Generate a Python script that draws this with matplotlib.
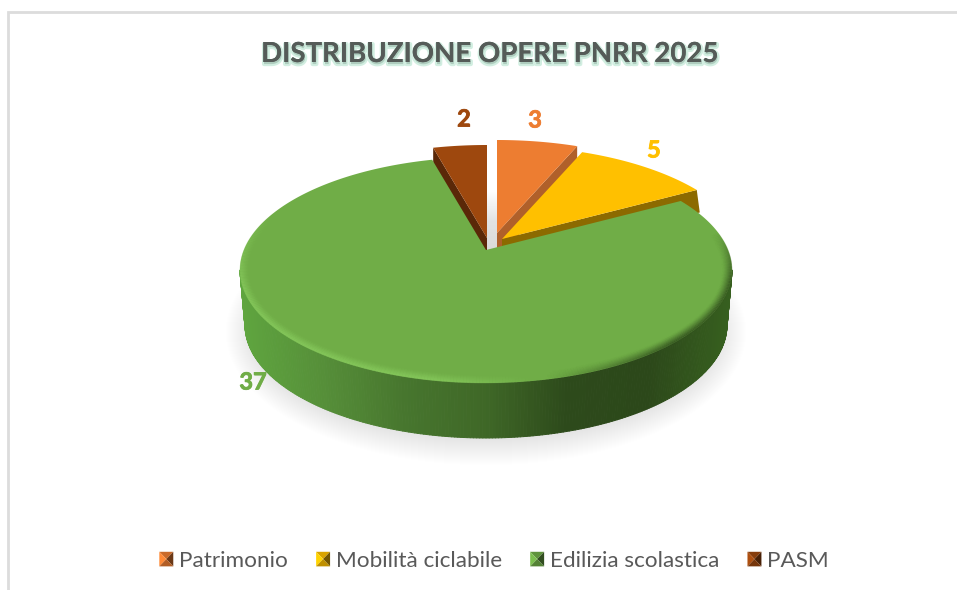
import numpy as np
import matplotlib
matplotlib.use('Agg')
import matplotlib.pyplot as plt
import matplotlib.patheffects as pe
from matplotlib.collections import PolyCollection, LineCollection
from matplotlib.colors import LinearSegmentedColormap, to_rgb
from matplotlib.legend_handler import HandlerBase
from matplotlib.patches import Ellipse, Patch, Polygon

plt.rcParams['font.family'] = ['Lato', 'DejaVu Sans']

##################################################
## data
##################################################
title = 'DISTRIBUZIONE OPERE PNRR 2025'
categories = ['Patrimonio', 'Mobilità ciclabile', 'Edilizia scolastica', 'PASM']
values = [3, 5, 37, 2]

##################################################
## style and layout (pixels, y going down)
##################################################
colors = ['#ED7D31', '#FFC000', '#70AD47', '#9E480E']
wall_colors = ['#B0602A', '#8C6A00', '#4F8A33', '#5A2808']
apex_x = [497, 502, 486, 487]        # where each exploded slice has its tip
apex_y = [233, 239, 250, 238]
label_x = [535, 654, 253, 464]
label_y = [120, 150, 382, 119]
rx, ry = 246, 113
persp = 20                           # tip sits above the centre of the ellipse
green_depth = 55
bottom_rx = 241


def rim(theta, ax0, ay0):
    # point where the ray at pie angle theta (clockwise from top) meets the rim
    a = persp / ry
    c = np.cos(theta)
    s = -a * c + np.sqrt(a**2 * c**2 - a**2 + 1)
    return ax0 + rx * s * np.sin(theta), ay0 - ry * s * c


def back_depth(y):
    # back slices look thinner because of the perspective
    return 14 + (y - 140) * 0.17


fig = plt.figure(figsize=(9.57, 5.9), dpi=100)
ax = fig.add_axes([0, 0, 1, 1])

# chart frame
ax.plot([8, 8, 957], [590, 12, 12], color='#DCDCDC', lw=2, solid_joinstyle='miter')

# slice angles from the values
edges = np.radians(np.concatenate([[0], np.cumsum(values)]) / np.sum(values) * 360)

# soft shadow under the disc
for k in range(26):
    ax.add_patch(Ellipse((486, 332), 2 * (rx + 14 - k), 2 * (ry + 20 - k),
                         color='#8C8C8C', alpha=0.009, lw=0))

# grey gap between the slices at the top
gap = LinearSegmentedColormap.from_list('gap', ['#FFFFFF', '#FFFFFF', '#E2E2E2', '#DADADA'])
ax.imshow(np.linspace(0, 1, 60).reshape(-1, 1), cmap=gap, aspect='auto',
          extent=[487, 497, 252, 160], zorder=1)

# small slices: wall first, then top face
for i in [0, 1, 3]:
    th = np.linspace(edges[i], edges[i + 1], 60)
    x, y = rim(th, apex_x[i], apex_y[i])
    if i == 3:
        # brown shows the wall on its left radial edge
        ex, ey = x[0], y[0]
    else:
        ex, ey = x[-1], y[-1]
    d0 = back_depth(apex_y[i])
    d1 = back_depth(ey)
    ax.add_patch(Polygon([(apex_x[i], apex_y[i]), (ex, ey), (ex + (3 if i == 1 else 0), ey + d1),
                          (apex_x[i], apex_y[i] + d0)],
                         fc=wall_colors[i], ec='none', zorder=2))
    ax.add_patch(Polygon(np.column_stack([np.r_[apex_x[i], x], np.r_[apex_y[i], y]]),
                         fc=colors[i], ec='none', zorder=3))

# green side wall with the shading from left to right
side = LinearSegmentedColormap.from_list(
    'side', ['#5FA53F', '#568F39', '#47762E', '#3F6827', '#2D4A1B', '#2C481A', '#37601F'])
cy = apex_y[2] + persp
t = np.radians(np.linspace(90, 270, 241))
tx = apex_x[2] + rx * np.sin(t)
ty = cy - ry * np.cos(t)
bx = apex_x[2] + bottom_rx * np.sin(t)
by = cy + green_depth - ry * np.cos(t)
quads = [[(tx[j], ty[j]), (tx[j + 1], ty[j + 1]), (bx[j + 1], by[j + 1]), (bx[j], by[j])]
         for j in range(len(t) - 1)]
quad_colors = [side((q[0][0] - 240) / 493) for q in quads]
ax.add_collection(PolyCollection(quads, facecolors=quad_colors, edgecolors=quad_colors,
                                 linewidths=0.7, zorder=4))

# green top face
th = np.linspace(edges[2], edges[3], 400)
x, y = rim(th, apex_x[2], apex_y[2])
ax.add_patch(Polygon(np.column_stack([np.r_[apex_x[2], x], np.r_[apex_y[2], y]]),
                     fc=colors[2], ec='none', zorder=5))

# soft bevel along the front of the rim: light on the left, dark on the right
t2 = np.radians(np.linspace(70, 300, 300))
light = np.array(to_rgb('#86C95C'))
dark = np.array(to_rgb('#2C481A'))
for inset in np.arange(0.5, 9, 1.0):
    px = apex_x[2] + (rx - inset * 1.1) * np.sin(t2)
    py = cy - (ry - inset) * np.cos(t2)
    segs = np.stack([np.column_stack([px[:-1], py[:-1]]), np.column_stack([px[1:], py[1:]])], axis=1)
    mid = np.degrees(t2[:-1])
    fade = (1 - inset / 9) ** 1.5
    rgba = np.zeros((len(mid), 4))
    lit = np.clip((mid - 168) / 25, 0, 1) * np.clip((300 - mid) / 40, 0, 1)
    shade = np.clip((165 - mid) / 35, 0, 1) * np.clip((mid - 70) / 25, 0, 1)
    rgba[:, :3] = np.where((shade > lit)[:, None], dark, light)
    rgba[:, 3] = np.maximum(lit * 0.85, shade * 0.7) * fade
    ax.add_collection(LineCollection(segs, colors=rgba, linewidths=1.2, zorder=6))

# value labels
for i in range(len(values)):
    ax.text(label_x[i], label_y[i], str(values[i]), color=colors[i], fontsize=17, fontweight='bold',
            ha='center', va='center', zorder=8,
            path_effects=[pe.withStroke(linewidth=0.6, foreground=colors[i])])

# title with the green glow
ax.text(490, 54, title, color='#555B58', fontsize=19.9, fontweight='bold', ha='center', va='center',
        zorder=8, path_effects=[
            pe.withStroke(linewidth=3, foreground='#BFE8D5', alpha=0.7, offset=(0.5, -1.5)),
            pe.Normal()])


##################################################
## legend with the small pyramid markers
##################################################
class PyramidHandler(HandlerBase):
    def create_artists(self, legend, orig_handle, xdescent, ydescent, width, height, fontsize, trans):
        base = np.array(to_rgb(orig_handle.get_facecolor()))
        x0, y0 = -xdescent, -ydescent
        c = (x0 + width / 2, y0 + height / 2)
        a = (x0, y0)
        b = (x0 + width, y0)
        d = (x0 + width, y0 + height)
        e = (x0, y0 + height)
        faces = [([e, d, c], 0.85), ([a, e, c], 1.1), ([b, d, c], 0.45), ([a, b, c], 0.75)]
        out = []
        for pts, k in faces:
            out.append(Polygon(pts, fc=np.clip(base * k, 0, 1), ec='none', transform=trans))
        return out


handles = [Patch(facecolor=c) for c in colors]
ax.legend(handles, categories, handler_map={Patch: PyramidHandler()}, ncol=4, frameon=False,
          loc='center', bbox_to_anchor=(494, 561), bbox_transform=ax.transData,
          fontsize=16.2, labelcolor='#595959', handlelength=0.62, handleheight=0.62,
          handletextpad=0.25, columnspacing=1.26, borderpad=0, borderaxespad=0)

ax.set_xlim(0, 957)
ax.set_ylim(590, 0)
ax.axis('off')

fig.savefig('out.png', dpi=100)
